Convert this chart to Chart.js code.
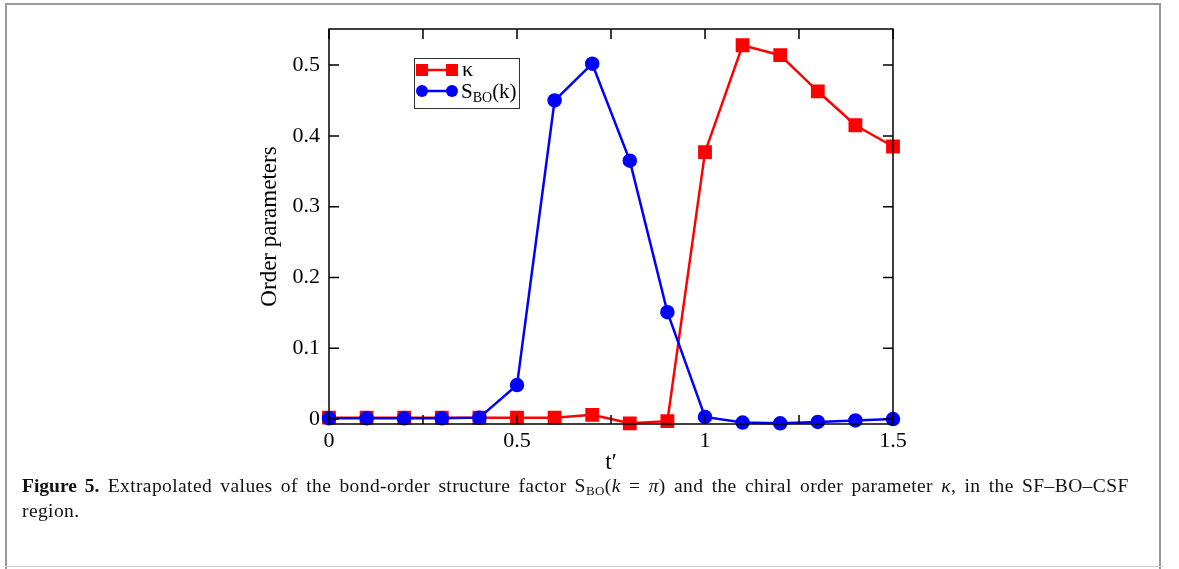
<!DOCTYPE html>
<html>
<head>
<meta charset="utf-8">
<script src="https://cdn.jsdelivr.net/npm/chart.js@4.4.1/dist/chart.umd.min.js"></script>
<style>
  html, body { margin: 0; padding: 0; background: #fff; }
  #wrap { position: relative; width: 1179px; height: 569px; overflow: hidden; }
  #frame { position: absolute; left: 5px; top: 3px; width: 1156px; height: 566px;
           border-left: 2px solid #999; border-top: 2px solid #999; border-right: 2px solid #999;
           box-sizing: border-box; }
  #bottomline { position: absolute; left: 5px; top: 566px; width: 1158px; height: 1px; background: #ccc; }
  canvas { position: absolute; left: 0; top: 0; }
  #caption { position: absolute; left: 22px; top: 473px; width: 1150px; white-space: nowrap;
             font-family: "Liberation Serif", "DejaVu Serif", serif; font-size: 19.5px;
             letter-spacing: 0.4px; word-spacing: 3px;
             line-height: 25px; color: #111; }
  #caption b { font-weight: bold; letter-spacing: 0; }
  #caption sub { font-size: 13px; vertical-align: -3px; line-height: 0; }
</style>
</head>
<body>
<div id="wrap">
  <div id="frame"></div>
  <div id="bottomline"></div>
  <canvas id="grafik"></canvas>
  <div id="caption"><b>Figure 5.</b> Extrapolated values of the bond-order structure factor S<sub>BO</sub>(<i>k</i> = <i>π</i>) and the chiral order parameter <i>κ</i>, in the SF–BO–CSF<br>region.</div>
</div>
<script>
const tPrime = [0, 0.1, 0.2, 0.3, 0.4, 0.5, 0.6, 0.7, 0.8, 0.9, 1.0, 1.1, 1.2, 1.3, 1.4, 1.5];
const kappa = [0.002, 0.002, 0.002, 0.002, 0.002, 0.002, 0.002, 0.006, -0.006, -0.003, 0.377, 0.528, 0.514, 0.463, 0.415, 0.385];
const sBO = [0.001, 0.001, 0.001, 0.001, 0.002, 0.048, 0.450, 0.502, 0.365, 0.151, 0.003, -0.005, -0.006, -0.004, -0.002, 0.000];

const yTicks = [0, 0.1, 0.2, 0.3, 0.4, 0.5];
const xTicks = [0, 0.5, 1, 1.5];
const xMinorTicks = [0.25, 0.75, 1.25];

const serif = '"Liberation Serif", "DejaVu Serif", serif';

const canvas = document.getElementById('grafik');
canvas.width = 1179;
canvas.height = 569;

function pts(ys) {
    return tPrime.map((x, i) => ({ x: x, y: ys[i] }));
}

// frame, inward ticks, axis titles and legend
const framePlugin = {
    id: 'framePlugin',
    afterDraw(chart) {
        const ctx = chart.ctx;
        const a = chart.chartArea;
        const xs = chart.scales.x, ys = chart.scales.y;
        ctx.save();
        ctx.strokeStyle = '#000';
        ctx.lineWidth = 1.5;
        ctx.strokeRect(a.left, a.top, a.right - a.left, a.bottom - a.top);
        ctx.beginPath();
        yTicks.forEach(v => {
            const py = ys.getPixelForValue(v);
            ctx.moveTo(a.left, py); ctx.lineTo(a.left + 10, py);
            ctx.moveTo(a.right, py); ctx.lineTo(a.right - 10, py);
        });
        xTicks.concat(xMinorTicks).forEach(v => {
            const px = xs.getPixelForValue(v);
            ctx.moveTo(px, a.top); ctx.lineTo(px, a.top + 10);
            ctx.moveTo(px, a.bottom); ctx.lineTo(px, a.bottom - 9);
        });
        ctx.stroke();

        // axis titles
        ctx.fillStyle = '#000';
        ctx.font = '23px ' + serif;
        ctx.textAlign = 'center';
        ctx.textBaseline = 'middle';
        ctx.save();
        ctx.translate(270, (a.top + a.bottom) / 2);
        ctx.rotate(-Math.PI / 2);
        ctx.fillText('Order parameters', 0, 0);
        ctx.restore();
        ctx.fillText('t\u2032', (a.left + a.right) / 2, 463);

        // legend
        const lx = 414, ly = 58;
        ctx.lineWidth = 1;
        ctx.strokeStyle = '#333';
        ctx.strokeRect(lx + 0.5, ly + 0.5, 105, 50);
        const entries = chart.data.datasets;
        entries.forEach((ds, i) => {
            const y = ly + 12 + i * 21;
            ctx.strokeStyle = ds.borderColor;
            ctx.fillStyle = ds.borderColor;
            ctx.lineWidth = 2.5;
            ctx.beginPath();
            ctx.moveTo(422, y); ctx.lineTo(452, y);
            ctx.stroke();
            [422, 452].forEach(px => {
                if (ds.pointStyle === 'rect') {
                    ctx.fillRect(px - 6, y - 6, 12, 12);
                } else {
                    ctx.beginPath();
                    ctx.arc(px, y, 6, 0, Math.PI * 2);
                    ctx.fill();
                }
            });
            ctx.fillStyle = '#000';
            ctx.textAlign = 'left';
            ctx.textBaseline = 'alphabetic';
            if (i === 0) {
                ctx.font = '22px ' + serif;
                ctx.fillText('\u03ba', 462, y + 6);
            } else {
                ctx.font = '21px ' + serif;
                ctx.fillText('S', 461, y + 7);
                let w = ctx.measureText('S').width;
                ctx.font = '14px ' + serif;
                ctx.fillText('BO', 461 + w, y + 11);
                let w2 = ctx.measureText('BO').width;
                ctx.font = '21px ' + serif;
                ctx.fillText('(k)', 461 + w + w2, y + 7);
            }
        });
        ctx.restore();
    }
};

const data = {
    datasets: [{
        label: '\u03ba',
        data: pts(kappa),
        borderColor: '#ff0000',
        backgroundColor: '#ff0000',
        pointStyle: 'rect',
        pointRadius: 8,
        pointHoverRadius: 8,
        borderWidth: 2.5,
        tension: 0,
        clip: false,
        order: 2
    }, {
        label: 'S_BO(k)',
        data: pts(sBO),
        borderColor: '#0000ff',
        backgroundColor: '#0000ff',
        pointStyle: 'circle',
        pointRadius: 6,
        pointHoverRadius: 6,
        borderWidth: 2.5,
        tension: 0,
        clip: false,
        order: 1
    }]
};

const options = {
    responsive: false,
    animation: false,
    layout: { padding: { left: 269, right: 286, top: 29, bottom: 85 } },
    plugins: { legend: { display: false }, tooltip: { enabled: false } },
    scales: {
        x: {
            type: 'linear',
            min: 0,
            max: 1.5,
            afterBuildTicks: s => { s.ticks = xTicks.map(v => ({ value: v })); },
            afterFit: s => { s.height = 60; },
            grid: { display: false, drawTicks: false },
            border: { display: false },
            ticks: {
                padding: 4,
                color: '#000',
                font: { family: serif, size: 22 },
                callback: v => String(v)
            }
        },
        y: {
            min: -0.007,
            max: 0.551,
            afterBuildTicks: s => { s.ticks = yTicks.map(v => ({ value: v })); },
            afterFit: s => { s.width = 60; },
            grid: { display: false, drawTicks: false },
            border: { display: false },
            ticks: {
                padding: 9,
                color: '#000',
                font: { family: serif, size: 22 },
                callback: v => String(v)
            }
        }
    }
};

const config = {
    type: 'line',
    data: data,
    options: options,
    plugins: [framePlugin]
};

const chart = new Chart(canvas, config);
</script>
</body>
</html>
